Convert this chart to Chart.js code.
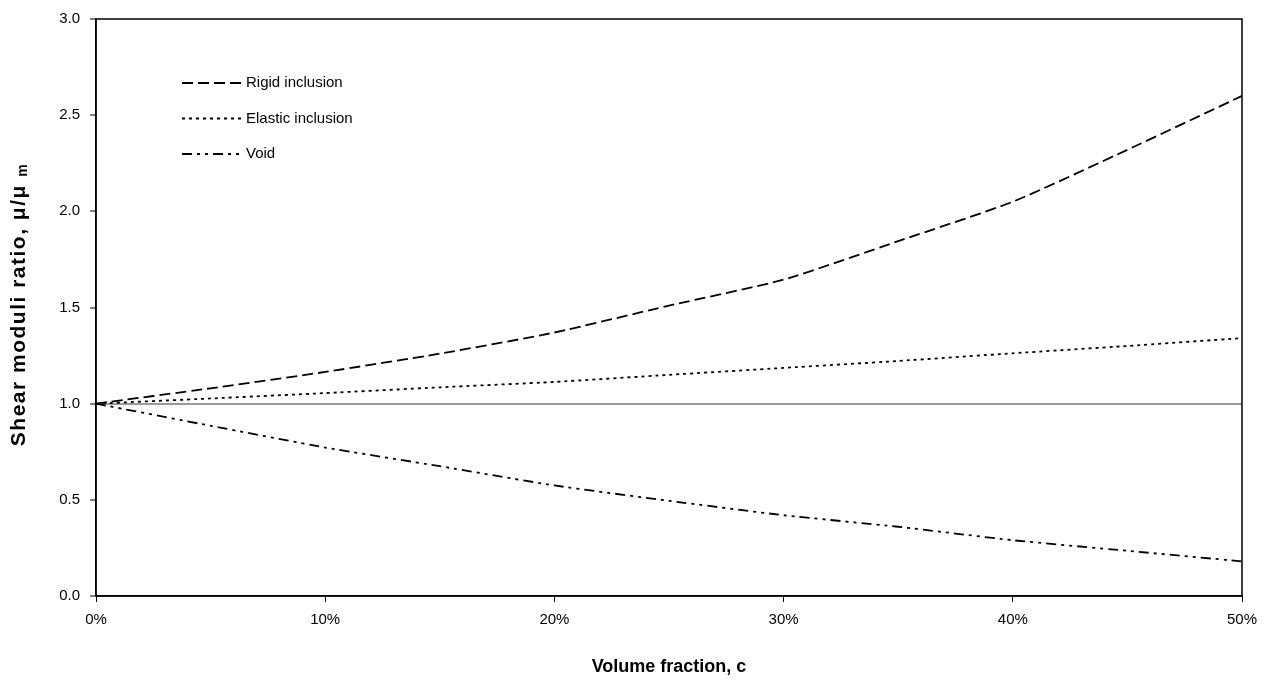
<!DOCTYPE html>
<html>
<head>
<meta charset="utf-8">
<script src="https://cdn.jsdelivr.net/npm/chart.js@4"></script>
<style>
  body { margin: 0; background: #fff; }
  #wrap { width: 1270px; height: 680px; }
</style>
</head>
<body>
<div id="wrap"><canvas id="myChart" width="1270" height="680"></canvas></div>
<script>
// volume fraction c (0 .. 50%)
const fractions = [0, 0.05, 0.10, 0.15, 0.20, 0.25, 0.30, 0.35, 0.40, 0.45, 0.50];
const rigidValues = [1.0, 1.08, 1.165, 1.26, 1.37, 1.51, 1.645, 1.845, 2.05, 2.32, 2.6];
const elasticValues = [1.0, 1.027, 1.055, 1.085, 1.113, 1.15, 1.186, 1.222, 1.262, 1.30, 1.341];
const voidValues = [1.0, 0.885, 0.772, 0.675, 0.575, 0.495, 0.42, 0.36, 0.29, 0.235, 0.18];
const seriesNames = ['Rigid inclusion', 'Elastic inclusion', 'Void'];
const yTicks = [0, 0.5, 1.0, 1.5, 2.0, 2.5, 3.0];
const yTitle = 'Shear moduli ratio, μ/μ';
const yTitleSub = 'm';

const FONT = "'Liberation Sans', Arial, sans-serif";

function toPoints(vals) {
  return fractions.map((c, i) => ({ x: c, y: vals[i] }));
}

// legend drawn inside the plot area, top-left, with the dash patterns
const insideLegend = {
  id: 'insideLegend',
  afterDatasetsDraw(chart) {
    const ctx = chart.ctx;
    const area = chart.chartArea;
    ctx.save();
    chart.data.datasets.forEach((ds, i) => {
      const y = area.top + 64 + i * 35.5;
      ctx.beginPath();
      ctx.setLineDash(ds.borderDash);
      ctx.lineWidth = ds.borderWidth;
      ctx.strokeStyle = ds.borderColor;
      ctx.moveTo(area.left + 86, y);
      ctx.lineTo(area.left + 145, y);
      ctx.stroke();
      ctx.setLineDash([]);
      ctx.fillStyle = '#000';
      ctx.font = '15px ' + FONT;
      ctx.textBaseline = 'middle';
      ctx.fillText(ds.label, area.left + 150, y);
    });
    ctx.restore();
  }
};

// rotated y title with subscript m
const yAxisTitle = {
  id: 'yAxisTitle',
  afterDraw(chart) {
    const ctx = chart.ctx;
    const a = chart.chartArea;
    ctx.save();
    ctx.fillStyle = '#000';
    ctx.textBaseline = 'middle';
    ctx.textAlign = 'left';
    ctx.letterSpacing = '1.5px';
    ctx.font = 'bold 21px ' + FONT;
    const w1 = ctx.measureText(yTitle + ' ').width;
    ctx.font = 'bold 14px ' + FONT;
    const w2 = ctx.measureText(yTitleSub).width;
    ctx.translate(19, (a.top + a.bottom) / 2 - 3);
    ctx.rotate(-Math.PI / 2);
    const start = -(w1 + w2) / 2;
    ctx.font = 'bold 21px ' + FONT;
    ctx.fillText(yTitle, start, 0);
    ctx.font = 'bold 14px ' + FONT;
    ctx.fillText(yTitleSub, start + w1, 4);
    ctx.restore();
  }
};

// plot area frame
const frame = {
  id: 'frame',
  afterDraw(chart) {
    const ctx = chart.ctx;
    const a = chart.chartArea;
    ctx.save();
    ctx.strokeStyle = '#000';
    ctx.lineWidth = 1.5;
    ctx.strokeRect(a.left, a.top, a.right - a.left, a.bottom - a.top);
    ctx.restore();
  }
};

window.addEventListener('DOMContentLoaded', () => {
  const ctx = document.getElementById('myChart').getContext('2d');
  const common = {
    borderColor: '#000',
    borderWidth: 1.8,
    pointRadius: 0,
    fill: false,
    tension: 0.2
  };
  new Chart(ctx, {
    type: 'line',
    data: {
      datasets: [
        Object.assign({ label: seriesNames[0], data: toPoints(rigidValues), borderDash: [11, 5] }, common),
        Object.assign({ label: seriesNames[1], data: toPoints(elasticValues), borderDash: [3, 4] }, common),
        Object.assign({ label: seriesNames[2], data: toPoints(voidValues), borderDash: [10, 5, 3, 5, 3, 5] }, common)
      ]
    },
    options: {
      responsive: false,
      animation: false,
      layout: { padding: { top: 16, right: 28, left: 0, bottom: 0 } },
      plugins: {
        legend: { display: false },
        tooltip: { enabled: false }
      },
      scales: {
        x: {
          type: 'linear',
          min: 0,
          max: 0.5,
          afterFit(s) { s.height = 84; },
          border: { display: true, color: '#000', width: 1.5 },
          grid: { drawOnChartArea: false, tickLength: 6, tickColor: '#000', tickWidth: 1 },
          ticks: {
            stepSize: 0.1,
            padding: 9,
            color: '#000',
            font: { family: FONT, size: 15 },
            callback: v => Math.round(v * 100) + '%'
          },
          title: {
            display: true,
            text: 'Volume fraction, c',
            color: '#000',
            font: { family: FONT, size: 18, weight: 'bold' },
            padding: { top: 0, bottom: 2 }
          }
        },
        y: {
          min: 0,
          max: 3,
          afterFit(s) { s.width = 96; },
          afterBuildTicks(s) { s.ticks = yTicks.map(v => ({ value: v })); },
          border: { display: true, color: '#000', width: 1.5 },
          grid: {
            tickLength: 6,
            tickColor: '#000',
            tickWidth: 1,
            color: c => (c.tick && c.tick.value === 1 ? '#9a9a9a' : 'rgba(0,0,0,0)'),
            lineWidth: c => (c.tick && c.tick.value === 1 ? 2 : 0)
          },
          ticks: {
            padding: 10,
            color: '#000',
            font: { family: FONT, size: 15 },
            callback: v => v.toFixed(1)
          },
          title: { display: false }
        }
      }
    },
    plugins: [insideLegend, yAxisTitle, frame]
  });
});
</script>
</body>
</html>
